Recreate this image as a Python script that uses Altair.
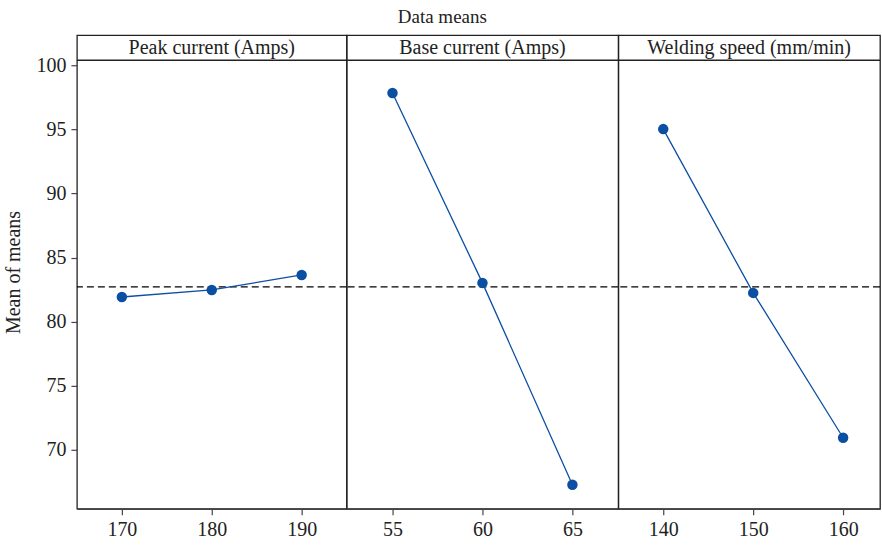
import altair as alt
import pandas as pd

factors = ["Peak current (Amps)", "Base current (Amps)", "Welding speed (mm/min)"]
levels = [[170, 180, 190], [55, 60, 65], [140, 150, 160]]
means = [[81.92, 82.47, 83.64], [97.83, 83.02, 67.27], [95.02, 82.24, 70.94]]
x_domains = [[165, 195], [52.45, 67.55], [135, 164.1]]
widths = [270, 272, 262]
y_ticks = [70, 75, 80, 85, 90, 95, 100]

grand_mean = sum(sum(m) for m in means) / sum(len(m) for m in means)

FONT = "Liberation Serif"
BLUE = "#0b4fa3"
TOTAL_H = 474      # header strip + plot area
HEADER_H = 25
FS = 20
Y_DOMAIN = [65.4, 102.34]

panels = []
for i, name in enumerate(factors):
    df = pd.DataFrame({"level": levels[i], "mean": means[i]})
    xs = alt.Scale(domain=x_domains[i], nice=False, zero=False)
    ys = alt.Scale(domain=Y_DOMAIN, nice=False, zero=False)
    yaxis = alt.Axis(values=y_ticks, title="Mean of means", grid=False,
                     tickSize=6, labelPadding=5, titlePadding=12, domain=False) if i == 0 else None
    xenc = alt.X("level:Q", scale=xs,
                 axis=alt.Axis(values=levels[i], title=None, grid=False, tickSize=6,
                               labelPadding=5, domain=True))
    yenc = alt.Y("mean:Q", scale=ys, axis=yaxis)

    rule = alt.Chart(pd.DataFrame({"m": [grand_mean]})).mark_rule(
        color="#000", strokeDash=[7, 4], strokeWidth=1.2
    ).encode(y=alt.Y("m:Q", scale=ys, axis=yaxis))
    line = alt.Chart(df).mark_line(color=BLUE, strokeWidth=1.3).encode(x=xenc, y=yenc)
    pts = alt.Chart(df).mark_point(filled=True, color=BLUE, size=110, opacity=1).encode(x=xenc, y=yenc)
    sep = alt.Chart(pd.DataFrame({"t": [name]})).mark_rule(color="#222", strokeWidth=1.3).encode(
        y=alt.value(HEADER_H), x=alt.value(0), x2=alt.value(widths[i])
    )
    header = alt.Chart(pd.DataFrame({"t": [name]})).mark_text(
        font=FONT, fontSize=FS, color="#222", baseline="middle"
    ).encode(text="t:N", x=alt.value(widths[i] / 2), y=alt.value(HEADER_H / 2 + 0.5))
    plot = alt.layer(rule, line, pts, sep, header).properties(width=widths[i], height=TOTAL_H)
    panels.append(plot)

chart = alt.hconcat(*panels, spacing=0, bounds="flush").properties(
    title=alt.TitleParams("Data means", font=FONT, fontSize=19, fontWeight="normal",
                          color="#222", anchor="middle", offset=8),
    padding={"left": 3, "top": 7, "right": 0, "bottom": 5},
).configure_view(stroke="#222", strokeWidth=1.3).configure_axis(
    labelFont=FONT, titleFont=FONT, labelFontSize=FS, titleFontSize=FS,
    titleFontWeight="normal", labelColor="#222", titleColor="#222",
    domainColor="#444", tickColor="#444", domainWidth=1.3, tickWidth=1.2
)

chart.save("out.html", embed_options={"renderer": "svg", "actions": False})
